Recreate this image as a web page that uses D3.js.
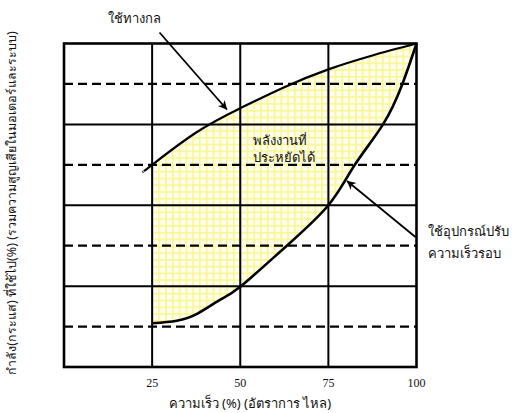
<!DOCTYPE html>
<html>
<head>
<meta charset="utf-8">
<script src="https://cdn.jsdelivr.net/npm/d3@7"></script>
<style>
  html, body { margin: 0; padding: 0; background: #fff; }
  svg { display: block; }
  .thai { font-family: "Noto Sans", "DejaVu Sans", sans-serif; fill: #111; }
  .num { font-family: "Liberation Serif", "DejaVu Serif", serif; fill: #111; }
</style>
</head>
<body>
<svg id="chart" width="517" height="413"></svg>
<script>
// Speed (% flow) vs. power drawn (%)
const xTicks = [25, 50, 75, 100];
const xTickLabels = ["25", "50", "75", "100"];
const yGridSolid = [25, 50, 75];
const yGridDashed = [12.5, 37.5, 62.5, 87.5];

// Throttling / mechanical control curve
const mechanicalX = [22.5, 25, 37.5, 50, 62.5, 75, 87.5, 100];
const mechanicalY = [60.4, 62.5, 72.5, 80, 86.5, 92, 96.3, 100];

// Variable speed drive curve
const driveX = [25, 32, 38, 44, 50, 62.5, 75, 82.5, 90.5, 96, 100];
const driveY = [13.5, 14.3, 16.6, 20.6, 24.8, 36.8, 50, 62.5, 75, 87.5, 100];

const xTitle = "ความเร็ว (%) (อัตราการ ไหล)";
const yTitle = "กำลัง(กระแส) ที่ใช้ไป(%) (รวมความสูญเสียในมอเตอร์และระบบ)";
const labelMechanical = "ใช้ทางกล";
const labelSaved = ["พลังงานที่", "ประหยัดได้"];
const labelDrive = ["ใช้อุปกรณ์ปรับ", "ความเร็วรอบ"];

// Annotation arrows in data units: [tailX, tailY, tipX, tipY]
const arrowMechanical = [27.1, 103.4, 46.2, 79.6];
const arrowDrive = [99.7, 40.2, 80.3, 57.5];

const svg = d3.select("#chart");
const x = d3.scaleLinear().domain([0, 100]).range([64, 416.5]);
const y = d3.scaleLinear().domain([0, 100]).range([367, 43.5]);

const mech = mechanicalX.map((v, i) => [v, mechanicalY[i]]);
const drive = driveX.map((v, i) => [v, driveY[i]]);

const defs = svg.append("defs");

// fine yellow grid used to shade the saved-energy region
const cell = (x(25) - x(0)) / 13;
const pat = defs.append("pattern")
  .attr("id", "hatch")
  .attr("patternUnits", "userSpaceOnUse")
  .attr("x", x(25) - 0.5).attr("y", y(50) - 0.5)
  .attr("width", cell).attr("height", cell);
pat.append("rect").attr("width", cell).attr("height", cell).attr("fill", "#fffff0");
pat.append("rect").attr("x", 0).attr("y", 0).attr("width", 1.6).attr("height", cell).attr("fill", "#faf590");
pat.append("rect").attr("x", 0).attr("y", 0).attr("width", cell).attr("height", 1.6).attr("fill", "#faf590");

defs.append("clipPath").attr("id", "fromQuarter")
  .append("rect")
  .attr("x", x(25)).attr("y", y(100))
  .attr("width", x(100) - x(25)).attr("height", y(0) - y(100));

defs.append("marker")
  .attr("id", "head")
  .attr("viewBox", "0 0 10 10")
  .attr("refX", 9.5).attr("refY", 5)
  .attr("markerWidth", 10).attr("markerHeight", 9)
  .attr("markerUnits", "userSpaceOnUse")
  .attr("orient", "auto")
  .append("path").attr("d", "M0,0 L10,5 L0,10 L3,5 Z").attr("fill", "#000");

// natural cubic spline: same shape whichever direction it is traced
const line = d3.line().x(d => x(d[0])).y(d => y(d[1])).curve(d3.curveNatural);

// shaded region between the two curves
const fillPath = line(mech) + line(drive.slice().reverse()).replace(/^M/, "L") + "Z";
svg.append("path")
  .attr("d", fillPath)
  .attr("fill", "url(#hatch)")
  .attr("clip-path", "url(#fromQuarter)");

// grid
const g = svg.append("g");
g.selectAll("line.vx").data(xTicks.filter(d => d < 100)).join("line")
  .attr("x1", d => x(d)).attr("x2", d => x(d))
  .attr("y1", y(0)).attr("y2", y(100))
  .attr("stroke", "#000").attr("stroke-width", 2);
g.selectAll("line.hs").data(yGridSolid).join("line").attr("class", "hs")
  .attr("x1", x(0)).attr("x2", x(100))
  .attr("y1", d => y(d)).attr("y2", d => y(d))
  .attr("stroke", "#000").attr("stroke-width", 2);
g.selectAll("line.hd").data(yGridDashed).join("line").attr("class", "hd")
  .attr("x1", x(0)).attr("x2", x(100))
  .attr("y1", d => y(d)).attr("y2", d => y(d))
  .attr("stroke", "#000").attr("stroke-width", 2.2)
  .attr("stroke-dasharray", "9,5");

// frame
svg.append("rect")
  .attr("x", x(0)).attr("y", y(100))
  .attr("width", x(100) - x(0)).attr("height", y(0) - y(100))
  .attr("fill", "none").attr("stroke", "#000").attr("stroke-width", 2.6);

// curves
svg.append("path").attr("d", line(mech))
  .attr("fill", "none").attr("stroke", "#000").attr("stroke-width", 2.2);
svg.append("path").attr("d", line(drive))
  .attr("fill", "none").attr("stroke", "#000").attr("stroke-width", 2.6);

// x tick labels
svg.selectAll("text.xt").data(xTicks).join("text").attr("class", "num")
  .attr("x", d => x(d)).attr("y", 387)
  .attr("text-anchor", "middle").attr("font-size", 12)
  .text((d, i) => xTickLabels[i]);

// axis titles
svg.append("text").attr("class", "thai")
  .attr("x", 250).attr("y", 408).attr("text-anchor", "middle")
  .attr("font-size", 13).text(xTitle);
svg.append("text").attr("class", "thai")
  .attr("transform", "translate(16," + 203 + ") rotate(-90)")
  .attr("text-anchor", "middle").attr("font-size", 12.5)
  .text(yTitle);

// annotations
function arrow(a) {
  svg.append("line")
    .attr("x1", x(a[0])).attr("y1", y(a[1]))
    .attr("x2", x(a[2])).attr("y2", y(a[3]))
    .attr("stroke", "#000").attr("stroke-width", 1.8)
    .attr("marker-end", "url(#head)");
}
arrow(arrowMechanical);
arrow(arrowDrive);

svg.append("text").attr("class", "thai")
  .attr("x", 134).attr("y", 23).attr("text-anchor", "middle")
  .attr("font-size", 13).text(labelMechanical);

svg.selectAll("text.saved").data(labelSaved).join("text").attr("class", "thai")
  .attr("x", 253).attr("y", (d, i) => 145 + i * 17)
  .attr("font-size", 13).text(d => d);

svg.selectAll("text.drive").data(labelDrive).join("text").attr("class", "thai")
  .attr("x", 428).attr("y", (d, i) => 236 + i * 22)
  .attr("font-size", 13).text(d => d);
</script>
</body>
</html>
